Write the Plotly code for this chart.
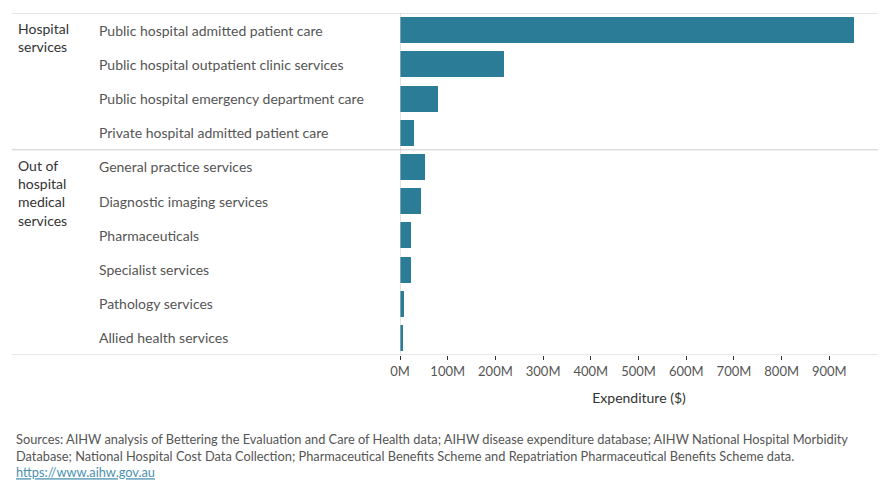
import plotly.graph_objects as go

groups = ["Hospital<br>services", "Out of<br>hospital<br>medical<br>services"]
group_sizes = [4, 6]
categories = [
    "Public hospital admitted patient care",
    "Public hospital outpatient clinic services",
    "Public hospital emergency department care",
    "Private hospital admitted patient care",
    "General practice services",
    "Diagnostic imaging services",
    "Pharmaceuticals",
    "Specialist services",
    "Pathology services",
    "Allied health services",
]
expenditure_m = [951, 219, 80, 30, 53, 45, 24, 24, 9, 7]
tick_values_m = [0, 100, 200, 300, 400, 500, 600, 700, 800, 900]
tick_labels = [f"{v}M" for v in tick_values_m]

W, H = 890, 500
ML, MR, MT, MB = 400, 12, 13, 145
PW = W - ML - MR
FONT = "Lato"
BAR = "#2b7c96"
LINE = "#cccccc"

def px_to_paper(px):
    return (px - ML) / PW

fig = go.Figure()
fig.add_trace(go.Bar(
    x=[v * 1e6 for v in expenditure_m],
    y=list(range(len(categories))),
    orientation="h",
    marker=dict(color=BAR, line=dict(width=0)),
    width=0.76,
    hoverinfo="skip",
))

fig.update_layout(
    width=W, height=H,
    margin=dict(l=ML, r=MR, t=MT, b=MB),
    plot_bgcolor="white", paper_bgcolor="white",
    showlegend=False,
    font=dict(family=FONT, size=13, color="#555555"),
    bargap=0,
)
fig.update_xaxes(
    range=[0, 1.002e9],
    tickvals=[v * 1e6 for v in tick_values_m],
    ticktext=tick_labels,
    ticks="outside", ticklen=4, tickwidth=1, tickcolor="#333333",
    showgrid=False, zeroline=False, showline=False,
    tickfont=dict(family=FONT, size=13, color="#555555"),
    title=dict(text="Expenditure ($)", font=dict(family=FONT, size=14, color="#333333"), standoff=15),
)
fig.update_yaxes(
    range=[len(categories) - 0.5, -0.5],
    showticklabels=False, showgrid=False, zeroline=False, showline=False, ticks="",
)

# category labels
for i, c in enumerate(categories):
    fig.add_annotation(x=px_to_paper(97), y=i, xref="paper", yref="y", text=c,
                       showarrow=False, xanchor="left", yanchor="middle",
                       font=dict(family=FONT, size=14, color="#555555"))

# group labels and separators
start = 0
for g, n in zip(groups, group_sizes):
    fig.add_annotation(x=px_to_paper(16), y=start - 0.5, xref="paper", yref="y", text=g,
                       showarrow=False, xanchor="left", yanchor="top", align="left",
                       yshift=-5,
                       font=dict(family=FONT, size=14, color="#333333"))
    fig.add_shape(type="line", xref="paper", yref="y",
                  x0=px_to_paper(12), x1=1, y0=start - 0.5, y1=start - 0.5,
                  line=dict(color=LINE, width=1))
    start += n
fig.add_shape(type="line", xref="paper", yref="y",
              x0=px_to_paper(12), x1=1, y0=start - 0.5, y1=start - 0.5,
              line=dict(color=LINE, width=1))
fig.add_shape(type="line", xref="x", yref="y", x0=0, x1=0,
              y0=-0.5, y1=start - 0.5, line=dict(color=LINE, width=1))

source = ("Sources: AIHW analysis of Bettering the Evaluation and Care of Health data; AIHW disease expenditure database; AIHW National Hospital Morbidity<br>"
          "Database; National Hospital Cost Data Collection; Pharmaceutical Benefits Scheme and Repatriation Pharmaceutical Benefits Scheme data.<br>"
          "<a href='https://www.aihw.gov.au' style='color:#4a90b0'><u>https://www.aihw.gov.au</u></a>")
fig.add_annotation(x=px_to_paper(14), y=1 - (429 - MT) / (H - MT - MB), xref="paper", yref="paper",
                   text=source, showarrow=False, xanchor="left", yanchor="top", align="left",
                   font=dict(family=FONT, size=12.8, color="#555555"))

fig.write_html("out.html")
